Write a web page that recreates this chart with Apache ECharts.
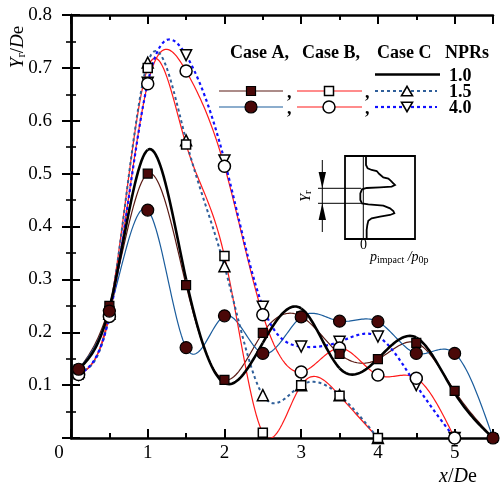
<!DOCTYPE html>
<html>
<head>
<meta charset="utf-8">
<script src="https://cdn.jsdelivr.net/npm/echarts@6/dist/echarts.min.js"></script>
<style>
  html, body { margin: 0; padding: 0; background: #fff; }
  #chart { width: 500px; height: 489px; }
</style>
</head>
<body>
<div id="chart"></div>
<script>
// Streamwise stations x/De
const XS = [0.1, 0.5, 1, 1.5, 2, 2.5, 3, 3.5, 4, 4.5, 5, 5.5];

// Yr/De at each station
const caseA_15 = [0.13, 0.25, 0.50, 0.289, 0.11, 0.199, 0.23, 0.159, 0.149, 0.18, 0.089, 0];
const caseA_40 = [0.13, 0.24, 0.431, 0.171, 0.231, 0.16, 0.229, 0.221, 0.22, 0.16, 0.16, 0];
const caseB_15 = [0.12, 0.24, 0.70, 0.555, 0.344, 0.01, 0.10, 0.08, 0];
const caseB_40 = [0.12, 0.23, 0.67, 0.694, 0.514, 0.233, 0.125, 0.17, 0.119, 0.113, 0];
const caseC_15 = [0.125, 0.235, 0.71, 0.563, 0.325, 0.081, 0.10, 0.081, 0];
const caseC_40 = [0.12, 0.23, 0.672, 0.724, 0.525, 0.248, 0.173, 0.182, 0.192, 0.10, 0];
const npr_10   = [0.13, 0.245, 0.545, 0.30, 0.104, 0.18, 0.245, 0.132, 0.15, 0.19, 0.085, 0];

const X_TICKS = [0, 1, 2, 3, 4, 5];
const Y_TICKS = [0.1, 0.2, 0.3, 0.4, 0.5, 0.6, 0.7, 0.8];

const SERIF = 'Liberation Serif, Times New Roman, serif';
const FILL_DARK = '#4a0808';

function pairs(ys) { return ys.map((y, i) => [XS[i], y]); }

// natural cubic spline second derivatives
function splineM(px, py) {
  const n = px.length;
  const M = new Array(n).fill(0);
  if (n < 3) return M;
  const h = [];
  for (let i = 0; i < n - 1; i++) h.push(px[i + 1] - px[i]);
  const a = [], b = [], c = [], d = [];
  for (let i = 1; i < n - 1; i++) {
    a.push(h[i - 1]);
    b.push(2 * (h[i - 1] + h[i]));
    c.push(h[i]);
    d.push(6 * ((py[i + 1] - py[i]) / h[i] - (py[i] - py[i - 1]) / h[i - 1]));
  }
  const m = b.length;
  for (let i = 1; i < m; i++) {
    const w = a[i] / b[i - 1];
    b[i] -= w * c[i - 1];
    d[i] -= w * d[i - 1];
  }
  const sol = new Array(m);
  sol[m - 1] = d[m - 1] / b[m - 1];
  for (let i = m - 2; i >= 0; i--) sol[i] = (d[i] - c[i] * sol[i + 1]) / b[i];
  for (let i = 0; i < m; i++) M[i + 1] = sol[i];
  return M;
}

// a smooth spline curve through the data, one segment per data item
function curveSeries(ys, stroke, width, dash, z) {
  const pts = pairs(ys);
  const px = pts.map(p => p[0]), py = pts.map(p => p[1]);
  const M = splineM(px, py);
  return {
    type: 'custom',
    coordinateSystem: 'cartesian2d',
    xAxisIndex: 0, yAxisIndex: 0,
    clip: true, silent: true, z: z || 3,
    data: pts,
    renderItem(params, api) {
      const i = params.dataIndex;
      if (i >= pts.length - 1) return null;
      const x0 = px[i], x1 = px[i + 1], h = x1 - x0;
      const line = [];
      const N = 24;
      for (let k = 0; k <= N; k++) {
        const x = x0 + h * k / N;
        const A = x1 - x, B = x - x0;
        const y = M[i] * A * A * A / (6 * h) + M[i + 1] * B * B * B / (6 * h)
          + (py[i] / h - M[i] * h / 6) * A + (py[i + 1] / h - M[i + 1] * h / 6) * B;
        line.push(api.coord([x, y]));
      }
      return {
        type: 'polyline',
        shape: { points: line },
        style: { stroke: stroke, lineWidth: width, lineDash: dash || null, fill: 'none' }
      };
    }
  };
}

function markerSeries(ys, symbol, size, fill, rotate) {
  return {
    type: 'scatter',
    xAxisIndex: 0, yAxisIndex: 0,
    silent: true, z: 6,
    symbol: symbol, symbolSize: size, symbolRotate: rotate || 0,
    itemStyle: { color: fill, borderColor: '#000', borderWidth: fill === '#fff' ? 1.5 : 1.2, opacity: 1 },
    data: pairs(ys)
  };
}

const LINE_BROWN = '#5a1a14';
const LINE_STEEL = '#1a5c9c';
const LINE_RED = '#ff1a1a';
const LINE_SLATE = '#2f5f9a';
const LINE_BLUE = '#1010ff';

const series = [
  curveSeries(npr_10, '#000', 2.6, null, 4),
  curveSeries(caseA_15, LINE_BROWN, 1.2),
  curveSeries(caseA_40, LINE_STEEL, 1.2),
  curveSeries(caseB_15, LINE_RED, 1.2),
  curveSeries(caseB_40, LINE_RED, 1.2),
  curveSeries(caseC_15, LINE_SLATE, 2, [3, 3]),
  curveSeries(caseC_40, LINE_BLUE, 2.2, [3, 3]),
  markerSeries(caseC_15, 'triangle', 11, '#fff'),
  markerSeries(caseC_40, 'triangle', 11, '#fff', 180),
  markerSeries(caseB_15, 'rect', 9, '#fff'),
  markerSeries(caseB_40, 'circle', 12, '#fff'),
  markerSeries(caseA_15, 'rect', 9, FILL_DARK),
  markerSeries(caseA_40, 'circle', 12, FILL_DARK)
];

const AX_LINE = { show: true, lineStyle: { color: '#000', width: 2.5 } };
const NO_LINE = { show: false };

function xAxisDef(pos, interval, tickLen, withLine, withLabels) {
  return {
    type: 'value', position: pos, min: 0, max: 5.5, interval: interval,
    axisLine: withLine ? AX_LINE : NO_LINE,
    axisTick: { show: true, inside: true, length: tickLen, lineStyle: { color: '#000', width: 2 } },
    splitLine: { show: false },
    axisLabel: withLabels ? {
      show: true, margin: 6, fontFamily: SERIF, fontSize: 19, color: '#000',
      showMaxLabel: false,
      formatter: v => {
        if (v === 0) return '{z|0}';
        return X_TICKS.indexOf(v) >= 0 ? String(v) : '';
      },
      rich: { z: { fontFamily: SERIF, fontSize: 19, color: '#000', padding: [0, 24, 0, 0] } }
    } : { show: false }
  };
}

function yAxisDef(pos, withLabels) {
  return {
    type: 'value', position: pos, min: 0, max: 0.8, interval: 0.1,
    axisLine: AX_LINE,
    axisTick: { show: true, inside: true, length: 9, lineStyle: { color: '#000', width: 2 } },
    minorTick: { show: true, splitNumber: 2, length: 5, lineStyle: { color: '#000', width: 1.6 } },
    splitLine: { show: false }, minorSplitLine: { show: false },
    axisLabel: withLabels ? {
      show: true, margin: 19, fontFamily: SERIF, fontSize: 19, color: '#000',
      formatter: v => {
        const r = Math.round(v * 10) / 10;
        return Y_TICKS.indexOf(r) >= 0 ? r.toFixed(1) : '';
      }
    } : { show: false }
  };
}

// legend + inset sketch
const LEG = { fontFamily: SERIF, fontWeight: 'bold', fontSize: 18, fill: '#000' };
function legText(x, y, s) {
  return { type: 'text', x: x, y: y, style: Object.assign({ text: s, verticalAlign: 'middle' }, LEG) };
}
function legLine(x1, x2, y, stroke, w, dash) {
  return { type: 'line', shape: { x1: x1, y1: y, x2: x2, y2: y },
    style: { stroke: stroke, lineWidth: w, lineDash: dash || null } };
}
function sq(cx, cy, s, fill) {
  return { type: 'rect', shape: { x: cx - s / 2, y: cy - s / 2, width: s, height: s },
    style: { fill: fill, stroke: '#000', lineWidth: fill === '#fff' ? 1.5 : 1.2 }, z: 10 };
}
function circ(cx, cy, r, fill) {
  return { type: 'circle', shape: { cx: cx, cy: cy, r: r },
    style: { fill: fill, stroke: '#000', lineWidth: fill === '#fff' ? 1.5 : 1.2 }, z: 10 };
}
function tri(cx, cy, s, down) {
  const h = s * 0.866 / 2;
  const pts = down
    ? [[cx - s / 2, cy - h], [cx + s / 2, cy - h], [cx, cy + h]]
    : [[cx - s / 2, cy + h], [cx + s / 2, cy + h], [cx, cy - h]];
  return { type: 'polygon', shape: { points: pts },
    style: { fill: '#fff', stroke: '#000', lineWidth: 1.6 }, z: 10 };
}

const R1 = 74.5, R2 = 91, R3 = 107;
const legendGraphics = [
  legText(230, 53, 'Case A,'),
  legText(302, 53, 'Case B,'),
  legText(377, 53, 'Case C'),
  legText(445, 53, 'NPRs'),
  legLine(375, 440, R1, '#000', 2.6),
  legText(449, R1 + 2, '1.0'),
  legText(449, R2 + 1, '1.5'),
  legText(449, R3 + 1, '4.0'),
  legLine(219, 283, R2, LINE_BROWN, 1.2), sq(251, R2, 9, FILL_DARK),
  legText(287, R2 + 2, ','),
  legLine(297, 362, R2, LINE_RED, 1.2), sq(329, R2, 9, '#fff'),
  legText(365, R2 + 2, ','),
  legLine(375, 437, R2, LINE_SLATE, 2, [3, 3]), tri(407, R2, 11, false),
  legLine(219, 283, R3, LINE_STEEL, 1.2), circ(251, R3, 6, FILL_DARK),
  legText(287, R3 + 2, ','),
  legLine(297, 362, R3, LINE_RED, 1.2), circ(329, R3, 6, '#fff'),
  legText(365, R3 + 2, ','),
  legLine(375, 437, R3, LINE_BLUE, 2.2, [3, 3]), tri(407, R3, 11, true)
];

// sketch of an impact-pressure profile with the gap width Yr
const profile = [
  [198, 18], [198, 45], [203, 55], [215, 60], [230, 63], [238, 72], [250, 82], [265, 86],
  [272, 92], [280, 100], [285, 105], [275, 110], [240, 112], [200, 114], [186, 118],
  [181, 130], [181, 150], [186, 160], [205, 163], [250, 167], [270, 175], [280, 183],
  [283, 190], [270, 195], [240, 200], [215, 205], [205, 212], [202, 225], [200, 240], [200, 268]
].map(p => [300 + p[0] / 3, 150 + p[1] / 3]);

const insetGraphics = [
  { type: 'rect', shape: { x: 345, y: 156, width: 70, height: 83 },
    style: { fill: 'none', stroke: '#000', lineWidth: 1.8 } },
  { type: 'line', shape: { x1: 363.3, y1: 156, x2: 363.3, y2: 239 }, style: { stroke: '#000', lineWidth: 1 } },
  { type: 'polyline', shape: { points: profile }, style: { stroke: '#000', lineWidth: 1.8, fill: 'none' } },
  { type: 'line', shape: { x1: 318, y1: 188.3, x2: 361, y2: 188.3 }, style: { stroke: '#000', lineWidth: 1 } },
  { type: 'line', shape: { x1: 318, y1: 203.3, x2: 361, y2: 203.3 }, style: { stroke: '#000', lineWidth: 1 } },
  { type: 'line', shape: { x1: 322.3, y1: 160, x2: 322.3, y2: 232 }, style: { stroke: '#000', lineWidth: 1 } },
  { type: 'polygon', shape: { points: [[322.3, 188.3], [318.6, 172], [326, 172]] }, style: { fill: '#000' } },
  { type: 'polygon', shape: { points: [[322.3, 203.3], [318.6, 220], [326, 220]] }, style: { fill: '#000' } },
  { type: 'text', x: 306, y: 196, rotation: Math.PI / 2,
    style: { text: '{i|Y}{s|r}', align: 'center', verticalAlign: 'middle',
      rich: { i: { fontFamily: SERIF, fontStyle: 'italic', fontSize: 14, fill: '#000' },
              s: { fontFamily: SERIF, fontSize: 11, fill: '#000', padding: [5, 0, 0, 0] } } } },
  { type: 'text', x: 363.5, y: 245, style: { text: '0', align: 'center', verticalAlign: 'middle',
      fontFamily: SERIF, fontSize: 14, fill: '#000' } },
  { type: 'text', x: 370, y: 257, style: { text: '{i|p}{s|impact}{n| /}{i|p}{s|0p}', verticalAlign: 'middle',
      rich: { i: { fontFamily: SERIF, fontStyle: 'italic', fontSize: 14, fill: '#000' },
              n: { fontFamily: SERIF, fontStyle: 'italic', fontSize: 14, fill: '#000' },
              s: { fontFamily: SERIF, fontSize: 10, fill: '#000', padding: [6, 0, 0, 0] } } } }
];

const axisNameGraphics = [
  { type: 'text', x: 18, y: 47, rotation: Math.PI / 2,
    style: { text: '{i|Y}{s|r}{n|/}{i|D}{n|e}', align: 'center', verticalAlign: 'middle',
      rich: { i: { fontFamily: SERIF, fontStyle: 'italic', fontSize: 19, fill: '#000' },
              n: { fontFamily: SERIF, fontSize: 19, fill: '#000' },
              s: { fontFamily: SERIF, fontSize: 13, fill: '#000', padding: [7, 0, 0, 0] } } } },
  { type: 'text', x: 458, y: 477,
    style: { text: '{i|x}{n|/}{i|D}{n|e}', align: 'center', verticalAlign: 'middle',
      rich: { i: { fontFamily: SERIF, fontStyle: 'italic', fontSize: 20, fill: '#000' },
              n: { fontFamily: SERIF, fontSize: 20, fill: '#000' } } } }
];

const chart = echarts.init(document.getElementById('chart'), null, { renderer: 'canvas' });
chart.setOption({
  backgroundColor: '#fff',
  animation: false,
  grid: { left: 71, right: 7, top: 15, bottom: 51, containLabel: false },
  xAxis: [
    xAxisDef('bottom', 0.5, 5, true, true),
    xAxisDef('bottom', 1, 9, false, false),
    xAxisDef('top', 0.5, 5, true, false),
    xAxisDef('top', 1, 9, false, false)
  ],
  yAxis: [
    yAxisDef('left', true),
    yAxisDef('right', false)
  ],
  series: series,
  graphic: legendGraphics.concat(insetGraphics, axisNameGraphics)
});
</script>
</body>
</html>
